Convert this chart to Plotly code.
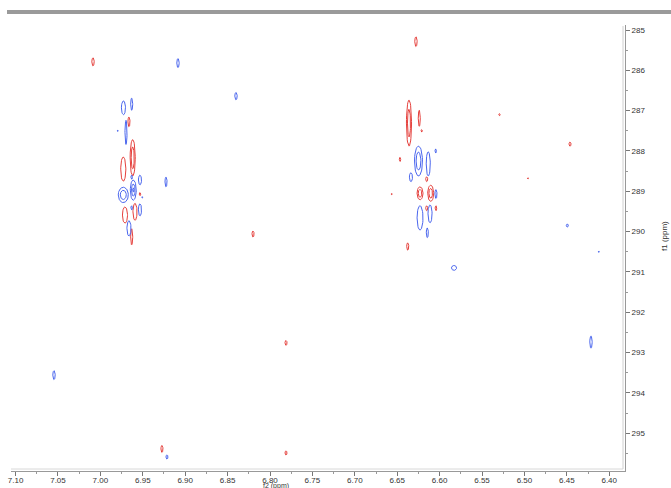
import numpy as np
import plotly.graph_objects as go

# Peak list: f2 (ppm), f1 (ppm), half-width f2 (ppm), half-width f1 (ppm), phase sign, contour levels
peak_f2 = [7.0087, 6.9085, 6.8401, 6.6279, 6.8200, 6.7811, 7.0547, 6.9274, 6.9215, 6.7811,
           6.5830, 6.4215, 6.4462, 6.5294, 6.4958, 6.4494, 6.4123, 6.9226,
           # left cluster
           6.9728, 6.9631, 6.9663, 6.9698, 6.9796, 6.9619, 6.9730, 6.9631, 6.9533, 6.9730,
           6.9612, 6.9533, 6.9506, 6.9710, 6.9592, 6.9533, 6.9631, 6.9663, 6.9631,
           # right cluster
           6.6361, 6.6240, 6.6211, 6.6467, 6.6249, 6.6134, 6.6046, 6.6338, 6.6152, 6.6565,
           6.6231, 6.6105, 6.6043, 6.6152, 6.6231, 6.6113, 6.6043, 6.6145, 6.6376]
peak_f1 = [285.79, 285.82, 286.64, 285.29, 290.06, 292.76, 293.56, 295.39, 295.59, 295.49,
           290.90, 292.74, 287.83, 287.10, 288.68, 289.85, 290.50, 288.77,
           286.93, 286.84, 287.28, 287.54, 287.50, 288.17, 288.45, 288.65, 288.72, 289.09,
           288.97, 289.07, 289.15, 289.59, 289.51, 289.46, 289.41, 289.92, 290.13,
           287.31, 287.19, 287.50, 288.21, 288.25, 288.32, 288.00, 288.65, 288.70, 289.07,
           289.05, 289.05, 289.07, 289.42, 289.66, 289.56, 289.42, 290.03, 290.37]
peak_w2 = [0.0014, 0.0014, 0.0014, 0.0014, 0.0012, 0.0012, 0.0014, 0.0012, 0.0012, 0.0012,
           0.0030, 0.0014, 0.0012, 0.0008, 0.0008, 0.0012, 0.0007, 0.0012,
           0.0024, 0.0012, 0.0012, 0.0012, 0.0007, 0.0030, 0.0030, 0.0009, 0.0018, 0.0059,
           0.0035, 0.0009, 0.0007, 0.0030, 0.0024, 0.0018, 0.0009, 0.0024, 0.0012,
           0.0030, 0.0012, 0.0007, 0.0008, 0.0047, 0.0024, 0.0008, 0.0018, 0.0012, 0.0007,
           0.0035, 0.0035, 0.0012, 0.0012, 0.0035, 0.0024, 0.0009, 0.0012, 0.0012]
peak_w1 = [0.10, 0.11, 0.09, 0.12, 0.075, 0.06, 0.11, 0.085, 0.05, 0.05,
           0.06, 0.15, 0.05, 0.025, 0.012, 0.037, 0.015, 0.12,
           0.17, 0.15, 0.12, 0.30, 0.015, 0.45, 0.30, 0.05, 0.12, 0.19,
           0.25, 0.037, 0.015, 0.20, 0.21, 0.15, 0.05, 0.19, 0.20,
           0.57, 0.20, 0.03, 0.05, 0.37, 0.30, 0.05, 0.11, 0.06, 0.015,
           0.16, 0.20, 0.11, 0.06, 0.30, 0.22, 0.06, 0.12, 0.09]
peak_sign = [1, -1, -1, 1, 1, 1, -1, 1, -1, 1,
             -1, -1, 1, 1, 1, -1, -1, -1,
             -1, -1, 1, -1, -1, 1, 1, -1, -1, -1,
             -1, 1, -1, 1, 1, -1, -1, -1, 1,
             1, 1, 1, 1, -1, -1, -1, -1, 1, 1,
             1, 1, -1, 1, -1, -1, 1, -1, 1]
peak_levels = [1, 1, 1, 1, 1, 1, 1, 1, 1, 1,
               1, 1, 1, 1, 1, 1, 1, 1,
               1, 1, 1, 1, 1, 2, 1, 1, 1, 2,
               3, 1, 1, 1, 1, 1, 1, 1, 1,
               2, 1, 1, 1, 2, 1, 1, 1, 1, 1,
               2, 2, 1, 1, 1, 1, 1, 1, 1]

x_ticks = [7.10, 7.05, 7.00, 6.95, 6.90, 6.85, 6.80, 6.75, 6.70, 6.65, 6.60, 6.55, 6.50, 6.45, 6.40]
y_ticks = [285, 286, 287, 288, 289, 290, 291, 292, 293, 294, 295]

RED = "#e5403c"
BLUE = "#4a66ee"

t = np.linspace(0, 2 * np.pi, 40)
xs = {1: [], -1: []}
ys = {1: [], -1: []}
for cx, cy, w2, w1, s, nl in zip(peak_f2, peak_f1, peak_w2, peak_w1, peak_sign, peak_levels):
    for k in range(nl):
        sc = 1.0 - k * 0.4
        xs[s].extend(list(cx + w2 * sc * np.cos(t)) + [None])
        ys[s].extend(list(cy + w1 * sc * np.sin(t)) + [None])

fig = go.Figure()
fig.add_trace(go.Scatter(x=xs[1], y=ys[1], mode="lines", line=dict(color=RED, width=1),
                         hoverinfo="skip", showlegend=False))
fig.add_trace(go.Scatter(x=xs[-1], y=ys[-1], mode="lines", line=dict(color=BLUE, width=1),
                         hoverinfo="skip", showlegend=False))

L, R, T, B = 11, 46, 25, 17
W, H = 671, 488
pw, ph = W - L - R, H - T - B

def px(p):
    return (p - L) / pw

def py(p):
    return (H - B - p) / ph

font = dict(family="Liberation Sans, Arial, sans-serif", size=8, color="#333333")

fig.update_layout(
    width=W, height=H,
    margin=dict(l=L, r=R, t=T, b=B),
    paper_bgcolor="white", plot_bgcolor="white",
    xaxis=dict(range=[7.1054, 6.3814], tickvals=x_ticks, ticktext=[f"{v:.2f}" for v in x_ticks],
               automargin=False, ticklabelstandoff=-3,
               ticks="outside", ticklen=4, tickcolor="#777", showline=True, linecolor="#999",
               linewidth=1, showgrid=False, zeroline=False, tickfont=font,
               minor=dict(dtick=0.025, tick0=6.4, ticks="outside", ticklen=2, tickcolor="#999")),
    yaxis=dict(range=[295.937, 284.876], tickvals=y_ticks, ticktext=[str(v) for v in y_ticks],
               automargin=False,
               side="right", ticks="outside", ticklen=4, tickcolor="#777", showline=True,
               linecolor="#999", linewidth=1, showgrid=False, zeroline=False, tickfont=font,
               minor=dict(dtick=0.5, tick0=285, ticks="outside", ticklen=2, tickcolor="#999")),
    shapes=[
        dict(type="rect", xref="paper", yref="paper", x0=px(7), x1=px(671), y0=py(14), y1=py(10),
             fillcolor="#9a9a9a", line=dict(width=0)),
        dict(type="line", xref="paper", yref="paper", x0=px(11), x1=px(623), y0=py(469), y1=py(469),
             line=dict(color="#d8d8d8", width=1)),
        dict(type="line", xref="paper", yref="paper", x0=px(623), x1=px(623), y0=py(469), y1=py(26),
             line=dict(color="#d0d0d0", width=1)),
    ],
    annotations=[
        dict(text="f2 (ppm)", xref="paper", yref="paper", x=px(276), y=py(480), xanchor="center",
             yanchor="top", showarrow=False, font=dict(family=font["family"], size=7, color="#333333")),
        dict(text="f1 (ppm)", xref="paper", yref="paper", x=px(664), y=py(236), xanchor="center",
             yanchor="middle", showarrow=False, textangle=-90, font=font),
    ],
)

fig.write_html("out.html", config={"displayModeBar": False},
               post_script="document.body.style.margin='0';document.body.style.overflow='hidden';")
